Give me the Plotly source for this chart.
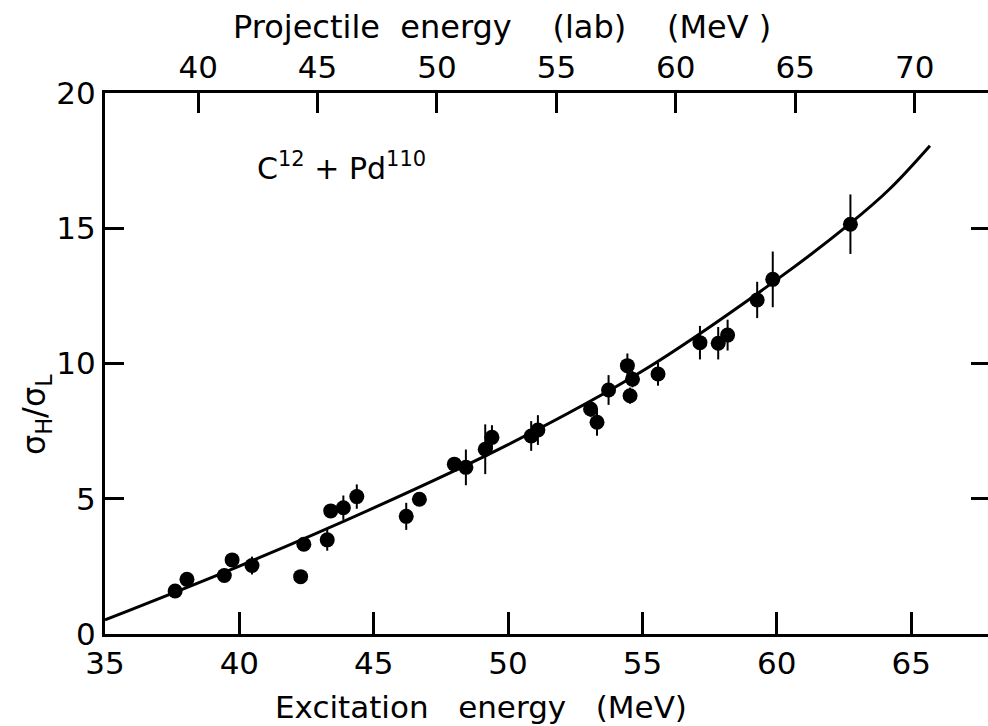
import plotly.graph_objects as go

# Data
excitation = [37.61, 38.05, 39.44, 39.73, 40.47, 42.28, 42.40, 43.27, 43.40, 43.87, 44.37,
              46.21, 46.70, 48.00, 48.43, 49.15, 49.40, 50.86, 51.11, 53.07, 53.31, 53.74,
              54.44, 54.63, 54.54, 55.58, 57.14, 57.82, 58.17, 59.27, 59.85, 62.74]
ratio = [1.59, 2.02, 2.16, 2.74, 2.53, 2.12, 3.32, 3.48, 4.55, 4.67, 5.08,
         4.35, 4.98, 6.28, 6.16, 6.83, 7.27, 7.32, 7.54, 8.32, 7.83, 9.02,
         9.92, 9.42, 8.81, 9.61, 10.77, 10.75, 11.05, 12.35, 13.11, 15.15]
ratio_err = [0.2, 0.2, 0.2, 0.2, 0.33, 0.2, 0.25, 0.4, 0.25, 0.45, 0.45,
             0.5, 0.25, 0.25, 0.66, 0.92, 0.45, 0.55, 0.55, 0.3, 0.5, 0.55,
             0.45, 0.3, 0.3, 0.43, 0.62, 0.6, 0.57, 0.67, 1.03, 1.1]

curve_x = [35.0, 40.0, 45.0, 50.0, 55.0, 60.0, 62.7, 64.2, 65.7]
curve_y = [0.52, 2.51, 4.66, 7.0, 9.72, 13.1, 15.15, 16.45, 18.05]

bottom_ticks = [35, 40, 45, 50, 55, 60, 65]
top_ticks = [40, 45, 50, 55, 60, 65, 70]
y_ticks = [0, 5, 10, 15, 20]
right_ticks = [5, 10, 15]

FONT = "DejaVu Sans"
NB = "\u00a0"

# plot area in pixels: left 105, right 988, top 93, bottom 634
W, H = 988, 726
L, R, T, B = 105, 0, 93, 92
PW, PH = W - L - R, H - T - B


def px_x(px):
    return (px - L) / PW


def px_y(py):
    return (H - B - py) / PH


fig = go.Figure()
fig.add_trace(go.Scatter(x=curve_x, y=curve_y, mode="lines",
                         line=dict(color="black", width=3, shape="spline", smoothing=1.0),
                         showlegend=False, hoverinfo="skip"))
fig.add_trace(go.Scatter(x=excitation, y=ratio, mode="markers",
                         marker=dict(color="black", size=15),
                         error_y=dict(type="data", array=ratio_err, color="black",
                                      thickness=2, width=0),
                         showlegend=False))
# empty traces so that the top and right axes are drawn
fig.add_trace(go.Scatter(x=top_ticks, y=[None] * len(top_ticks), xaxis="x2", yaxis="y",
                         mode="markers", showlegend=False, hoverinfo="skip"))
fig.add_trace(go.Scatter(x=[None] * len(right_ticks), y=right_ticks, xaxis="x", yaxis="y2",
                         mode="markers", showlegend=False, hoverinfo="skip"))

common = dict(tickcolor="black", tickwidth=2.5, showgrid=False, zeroline=False,
              automargin=False, tickfont=dict(family=FONT, size=31, color="black"))

fig.update_layout(
    width=W, height=H,
    margin=dict(l=L, r=R, t=T, b=B, pad=0),
    paper_bgcolor="white", plot_bgcolor="white",
    font=dict(family=FONT, size=31, color="black"),
    xaxis=dict(range=[35, 67.86], tickvals=bottom_ticks, ticks="inside", ticklen=22,
               showline=True, linecolor="black", linewidth=3, **common),
    xaxis2=dict(range=[36.10, 73.07], tickvals=top_ticks, ticks="inside", ticklen=20,
                showline=True, linecolor="black", linewidth=3, overlaying="x",
                side="top", anchor="y", **common),
    yaxis=dict(range=[0, 20], tickvals=y_ticks, ticks="inside", ticklen=19,
               showline=True, linecolor="black", linewidth=3, **common),
    yaxis2=dict(range=[0, 20], tickvals=right_ticks, ticks="inside", ticklen=17,
                showline=False, showticklabels=False, overlaying="y", side="right",
                anchor="x", **common),
    annotations=[
        dict(x=40.6, y=16.5, xref="x", yref="y", xanchor="left", yanchor="bottom",
             text="C<sup>12</sup> + Pd<sup>110</sup>", showarrow=False,
             font=dict(family=FONT, size=30, color="black")),
        dict(x=px_x(481), y=px_y(707), xref="paper", yref="paper",
             xanchor="center", yanchor="middle", showarrow=False,
             text="Excitation" + NB * 3 + "energy" + NB * 3 + "(MeV)",
             font=dict(family=FONT, size=31, color="black")),
        dict(x=px_x(502), y=px_y(27), xref="paper", yref="paper",
             xanchor="center", yanchor="middle", showarrow=False,
             text="Projectile" + NB * 2 + "energy" + NB * 4 + "(lab)" + NB * 4 + "(MeV" + NB + ")",
             font=dict(family=FONT, size=32, color="black")),
        dict(x=px_x(36), y=px_y(415), xref="paper", yref="paper",
             xanchor="center", yanchor="middle", showarrow=False, textangle=-90,
             text="σ<sub>H</sub>/σ<sub>L</sub>",
             font=dict(family=FONT, size=32, color="black")),
    ],
)

fig.write_html("out.html", config={"displayModeBar": False},
               post_script="document.body.style.margin='0px';"
                           "document.body.style.overflow='hidden';")
